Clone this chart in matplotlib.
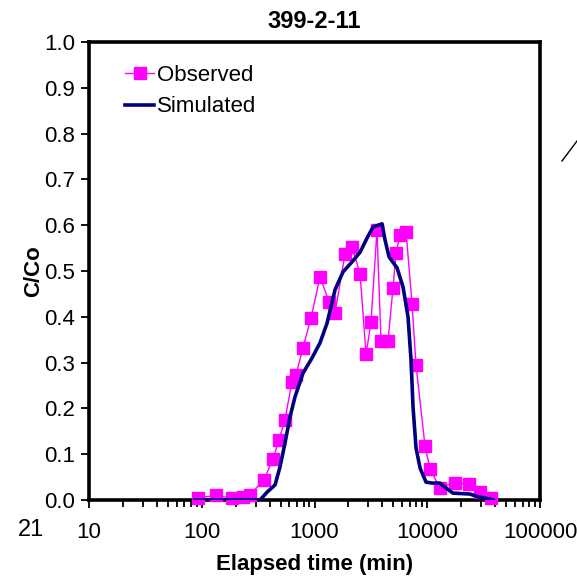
import matplotlib
matplotlib.use("Agg")
import matplotlib.pyplot as plt
from matplotlib.lines import Line2D
from matplotlib.ticker import LogLocator, FixedLocator, FuncFormatter, NullFormatter

plt.rcParams['font.family'] = ['Liberation Sans', 'DejaVu Sans']

# observed breakthrough (elapsed time in min, C/Co)
obs_t = [93, 134, 185, 232, 268, 357, 428, 484, 547, 631, 685, 790, 930, 1120,
         1345, 1520, 1864, 2150, 2535, 2866, 3170, 3582, 3890, 4487, 4966, 5283,
         5729, 6486, 7330, 7950, 9550, 10580, 12900, 17600, 23450, 29380, 36740]
obs_c = [0.005, 0.010, 0.004, 0.007, 0.012, 0.044, 0.090, 0.131, 0.175, 0.258,
         0.273, 0.332, 0.397, 0.487, 0.433, 0.408, 0.537, 0.553, 0.494, 0.318,
         0.388, 0.589, 0.347, 0.347, 0.463, 0.539, 0.578, 0.586, 0.428, 0.295,
         0.118, 0.068, 0.027, 0.038, 0.034, 0.018, 0.004]

# simulated curve
sim_t = [87, 329, 379, 447, 494, 547, 606, 671, 791, 950, 1119, 1292, 1521,
         1790, 2153, 2536, 2925, 3306, 3972, 4221, 4579, 5392, 6099, 6751, 7180,
         7480, 7950, 8630, 9750, 11020, 12970, 14360, 16900, 23900, 28180, 36000, 38300]
sim_c = [0.0, 0.0, 0.017, 0.033, 0.072, 0.124, 0.181, 0.225, 0.277, 0.310,
         0.343, 0.386, 0.459, 0.498, 0.520, 0.541, 0.572, 0.596, 0.603, 0.568,
         0.531, 0.507, 0.465, 0.400, 0.306, 0.203, 0.114, 0.070, 0.039, 0.037,
         0.037, 0.028, 0.015, 0.013, 0.007, 0.002, 0.0]

fig = plt.figure(figsize=(5.77, 5.79), dpi=100)
ax = fig.add_axes([89/577, 1-500/579, 451/577, 458/579])

ax.plot(obs_t, obs_c, color='#FF00FF', lw=1.0, marker='s', markersize=8,
        markeredgecolor='#FF00FF', label='Observed', clip_on=False, zorder=3)
ax.plot(sim_t, sim_c, color='#000080', lw=2.6, label='Simulated', zorder=4)

ax.set_xscale('log')
ax.set_xlim(10, 100000)
ax.set_ylim(0, 1.0)
ax.xaxis.set_major_locator(FixedLocator([10, 100, 1000, 10000, 100000]))
ax.xaxis.set_major_formatter(FuncFormatter(lambda v, p: f"{int(round(v))}"))
ax.xaxis.set_minor_locator(LogLocator(base=10, subs=range(2, 10)))
ax.xaxis.set_minor_formatter(NullFormatter())
ax.set_yticks([i / 10 for i in range(11)])
ax.yaxis.set_major_formatter(FuncFormatter(lambda v, p: f"{v:.1f}"))

for s in ax.spines.values():
    s.set_linewidth(2.6)
    s.set_color('black')
ax.tick_params(axis='both', which='major', direction='out', length=6, width=1.3,
               labelsize=16, color='black')
ax.tick_params(axis='x', which='major', pad=10)
ax.tick_params(axis='x', which='minor', direction='out', length=5, width=1.3)
ax.tick_params(axis='y', which='major', pad=4)

ax.set_title('399-2-11', fontsize=17, fontweight='bold', pad=10)
ax.set_xlabel('Elapsed time (min)', fontsize=16, fontweight='bold', labelpad=7.5)
ax.set_ylabel('C/Co', fontsize=16, fontweight='bold', labelpad=0)

ax.legend(loc='upper left', bbox_to_anchor=(0.08, 0.95), frameon=False,
          fontsize=16, handlelength=1.3, handletextpad=0.15, labelspacing=0.47,
          borderaxespad=0, borderpad=0)

fig.text(18/577, 1-530/579, '21', fontsize=17, va='center', ha='left')
fig.add_artist(Line2D([562/577, 577/577], [1-161/579, 1-141/579],
                      color='black', lw=1.0, transform=fig.transFigure))

fig.savefig('out.png', dpi=100)
